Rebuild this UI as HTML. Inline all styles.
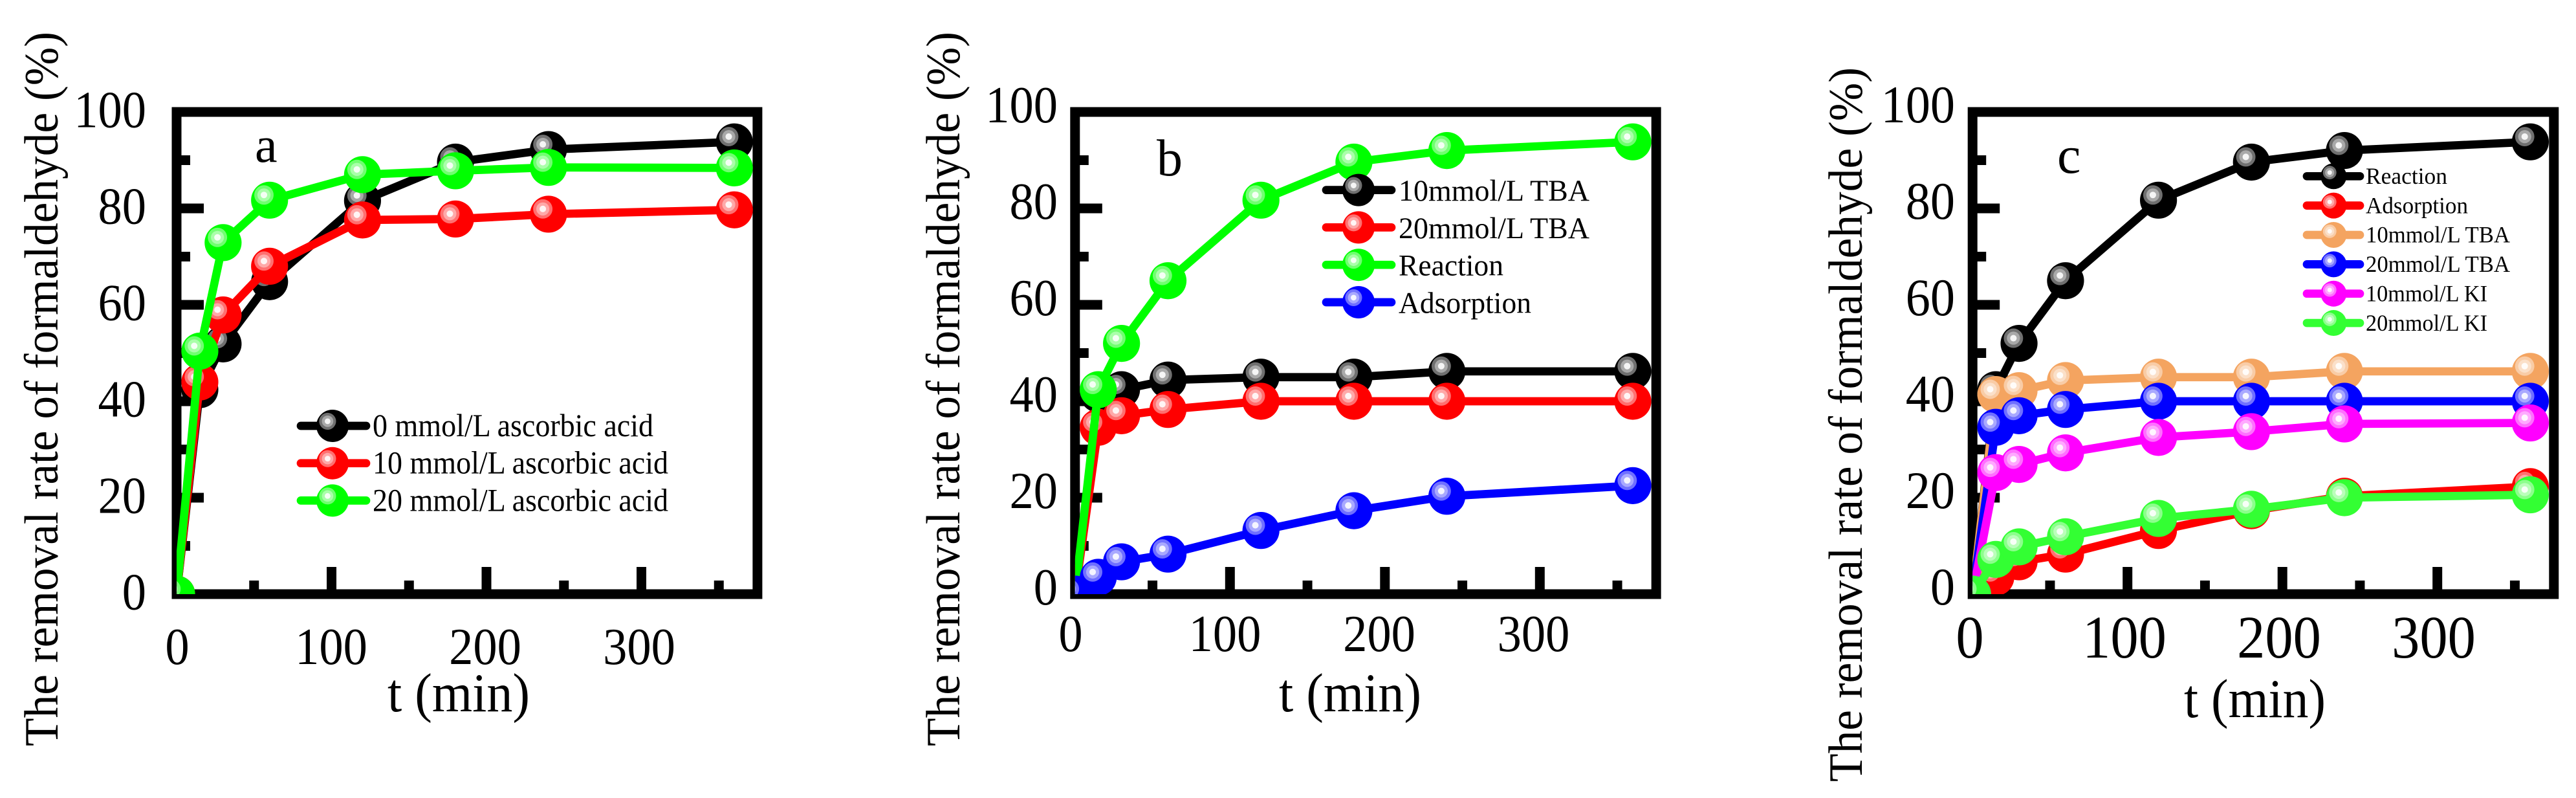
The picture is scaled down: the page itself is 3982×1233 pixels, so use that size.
<!DOCTYPE html>
<html lang="en">
<head>
<meta charset="utf-8">
<title>Removal rate of formaldehyde</title>
<style>
html,body{margin:0;padding:0;background:#fff;}
svg{display:block;}
text{font-family:"Liberation Serif","Times New Roman",serif;fill:#000;}
</style>
</head>
<body>
<svg id="chart" xmlns="http://www.w3.org/2000/svg" width="3982" height="1233" viewBox="0 0 3982 1233">
  <rect x="0" y="0" width="3982" height="1233" fill="#fff"/>
  <defs>
    <clipPath id="clip-a"><rect x="273" y="173" width="897.8" height="745"/></clipPath>
    <clipPath id="clip-b"><rect x="1661.8" y="173" width="898.4" height="745"/></clipPath>
    <clipPath id="clip-c"><rect x="3049.2" y="173" width="898.6" height="745"/></clipPath>
  </defs>

  <g id="panel-a">
    <text transform="translate(89,1153) rotate(-90)" font-size="74" textLength="1104" lengthAdjust="spacingAndGlyphs">The removal rate of formaldehyde (%)</text>
    <text x="599" y="1099" font-size="85" textLength="220" lengthAdjust="spacingAndGlyphs">t (min)</text>
    <text x="394" y="250" font-size="78">a</text>
  </g>
  <g id="panel-b">
    <text transform="translate(1483,1153) rotate(-90)" font-size="74" textLength="1104" lengthAdjust="spacingAndGlyphs">The removal rate of formaldehyde (%)</text>
    <text x="1977" y="1099" font-size="85" textLength="220" lengthAdjust="spacingAndGlyphs">t (min)</text>
    <text x="1788" y="271" font-size="80">b</text>
  </g>
  <g id="panel-c">
    <text transform="translate(2878,1208) rotate(-90)" font-size="74" textLength="1104" lengthAdjust="spacingAndGlyphs">The removal rate of formaldehyde (%)</text>
    <text x="3376" y="1108" font-size="85" textLength="219" lengthAdjust="spacingAndGlyphs">t (min)</text>
    <text x="3180" y="267" font-size="82">c</text>
  </g>
</svg>

<script>
// ---- chart data ----
const timeMinutes = [0, 15, 30, 60, 120, 180, 240, 360];

const xTickLabels = [0, 100, 200, 300];
const xMinorTicks = [50, 150, 250, 350];
const yTickLabels = [0, 20, 40, 60, 80, 100];
const yMinorTicks = [10, 30, 50, 70, 90];

// panel a
const a0mmolAscorbic  = [0, 42.4, 51.9, 64.8, 81.6, 89.6, 92.2, 93.8];
const a10mmolAscorbic = [0, 44, 57.9, 68, 77.6, 77.8, 78.8, 79.7];
const a20mmolAscorbic = [0, 50.4, 72.9, 81.7, 87, 87.8, 88.5, 88.4];
const aLegendLabels = ['0 mmol/L ascorbic acid', '10 mmol/L ascorbic acid', '20 mmol/L ascorbic acid'];

// panel b
const b10mmolTBA   = [0, 41.5, 42.4, 44.4, 45, 45, 46.2, 46.2];
const b20mmolTBA   = [0, 34.6, 37, 38.3, 40, 40, 40, 40];
const bReaction    = [0, 42.4, 52, 65, 81.7, 89.6, 92, 93.8];
const bAdsorption  = [0, 3.5, 6.7, 8.3, 13.2, 17.3, 20.3, 22.5];
const bLegendLabels = ['10mmol/L TBA', '20mmol/L TBA', 'Reaction', 'Adsorption'];

// panel c
const cReaction    = [0, 42.4, 52, 65, 81.7, 89.6, 92, 93.8];
const cAdsorption  = [0, 3.5, 6.7, 8.3, 13.2, 17.3, 20.3, 22.3];
const c10mmolTBA   = [0, 41.4, 42.2, 44.3, 45, 45, 46.2, 46.2];
const c20mmolTBA   = [0, 34.6, 37, 38.3, 40, 40, 40, 40];
const c10mmolKI    = [0, 25.2, 26.9, 29.3, 32.5, 33.7, 35.3, 35.5];
const c20mmolKI    = [0, 7.2, 9.8, 11.9, 15.7, 17.6, 20, 20.6];
const cLegendLabels = ['Reaction', 'Adsorption', '10mmol/L TBA', '20mmol/L TBA', '10mmol/L KI', '20mmol/L KI'];

// ---- drawing ----
const SVG_NS = 'http://www.w3.org/2000/svg';
const COLORS = {black:'#000000', red:'#ff0000', lime:'#00ff00', green:'#33ff33', sand:'#f4a460', blue:'#0000ff', magenta:'#ff00ff'};
const PLOT_TOP = 173, PLOT_BOTTOM = 918, X_UNIT = 2.395, Y_UNIT = 7.45;
const LINE_W = 12.7, FRAME_W = 15;

function make(tag, attrs, parent) {
  const el = document.createElementNS(SVG_NS, tag);
  for (const k in attrs) el.setAttribute(k, attrs[k]);
  parent.appendChild(el);
  return el;
}
function yScale(v) { return PLOT_BOTTOM - v * Y_UNIT; }

function tickLabel(parent, text, x, y, size, hscale, anchor, name) {
  const str = String(text);
  const el = make('text', {
    x: x, y: y, 'font-size': size, 'text-anchor': anchor,
    textLength: str.length * 0.5 * size * hscale,
    lengthAdjust: 'spacingAndGlyphs'
  }, parent);
  
  
  el.textContent = str;
}

function ball(parent, cx, cy, r, color, name) {
  const g = make('g', {}, parent);
  
  
  make('circle', {cx: cx, cy: cy, r: r, fill: color}, g);
  const k = r / 28.3;
  const hx = cx - 8.6 * k, hy = cy - 8 * k;
  make('circle', {cx: hx, cy: hy, r: 14.8 * k, fill: '#fff', 'fill-opacity': 0.44}, g);
  make('circle', {cx: hx, cy: hy, r: 10 * k, fill: '#fff', 'fill-opacity': 0.40}, g);
  make('circle', {cx: hx, cy: hy, r: 5 * k, fill: '#fff', 'fill-opacity': 0.88}, g);
}

function drawPanel(p) {
  const root = document.getElementById(p.id);
  const xScale = function (t) { return p.x0 + t * X_UNIT; };
  const right = xScale(p.xMax);

  // frame
  const frame = make('rect', {
    x: p.x0, y: PLOT_TOP, width: right - p.x0, height: PLOT_BOTTOM - PLOT_TOP,
    fill: 'none', stroke: '#000', 'stroke-width': FRAME_W
  }, root);
  
  

  // ticks
  const majorLen = 42, minorLen = 21;
  xTickLabels.forEach(function (t) {
    if (t === 0) return;
    const tick = make('line', {x1: xScale(t), x2: xScale(t), y1: PLOT_BOTTOM, y2: PLOT_BOTTOM - majorLen, stroke: '#000', 'stroke-width': FRAME_W}, root);
    
    
  });
  xMinorTicks.forEach(function (t) {
    const tick = make('line', {x1: xScale(t), x2: xScale(t), y1: PLOT_BOTTOM, y2: PLOT_BOTTOM - minorLen, stroke: '#000', 'stroke-width': FRAME_W}, root);
    
    
  });
  yTickLabels.forEach(function (v) {
    if (v === 0 || v === 100) return;
    const tick = make('line', {x1: p.x0, x2: p.x0 + majorLen, y1: yScale(v), y2: yScale(v), stroke: '#000', 'stroke-width': FRAME_W}, root);
    
    
  });
  yMinorTicks.forEach(function (v) {
    const tick = make('line', {x1: p.x0, x2: p.x0 + minorLen, y1: yScale(v), y2: yScale(v), stroke: '#000', 'stroke-width': FRAME_W}, root);
    
    
  });

  // tick labels
  xTickLabels.forEach(function (t) {
    tickLabel(root, t, p.xLabelX0 + t * p.xLabelUnit, p.xLabelY, p.xLabelSize, p.xLabelScale, 'middle', 'x-tick-label');
  });
  yTickLabels.forEach(function (v) {
    tickLabel(root, v, p.yLabelRight, yScale(v) + p.yLabelDy, p.yLabelSize, p.yLabelScale, 'end', 'y-tick-label');
  });

  // series (clipped to the axes rectangle)
  const dataGroup = make('g', {'clip-path': 'url(#' + p.clip + ')'}, root);
  
  
  p.series.forEach(function (s, si) {
    const g = make('g', {}, dataGroup);
    
    
    const pts = s.values.map(function (v, i) { return xScale(timeMinutes[i]) + ',' + yScale(v); }).join(' ');
    const line = make('polyline', {points: pts, fill: 'none', stroke: s.color, 'stroke-width': LINE_W, 'stroke-linejoin': 'round'}, g);
    
    
    s.values.forEach(function (v, i) {
      ball(g, xScale(timeMinutes[i]), yScale(v), 28.6, s.color, 'data-point');
    });
  });

  // legend
  const L = p.legend;
  const lg = make('g', {}, root);
  
  
  p.series.forEach(function (s, i) {
    const y = L.y0 + i * L.dy;
    const entry = make('g', {}, lg);
    
    
    make('line', {x1: L.x1, x2: L.x2, y1: y, y2: y, stroke: s.color, 'stroke-width': LINE_W, 'stroke-linecap': 'round'}, entry);
    ball(entry, L.cx, y, L.r, s.color, 'legend-marker');
    const t = make('text', {
      x: L.textX, y: y + L.textDy, 'font-size': L.size,
      textLength: s.label.length > 0 ? L.widths[i] : 0,
      lengthAdjust: 'spacingAndGlyphs'
    }, entry);
    
    
    t.textContent = s.label;
  });
}

drawPanel({
  id: 'panel-a', clip: 'clip-a', x0: 273, xMax: 374.9,
  xLabelX0: 274, xLabelUnit: 2.38, xLabelY: 1026, xLabelSize: 81, xLabelScale: 0.92,
  yLabelRight: 226, yLabelDy: 23.5, yLabelSize: 81, yLabelScale: 0.92,
  series: [
    {values: a0mmolAscorbic,  color: COLORS.black, label: aLegendLabels[0]},
    {values: a10mmolAscorbic, color: COLORS.red,   label: aLegendLabels[1]},
    {values: a20mmolAscorbic, color: COLORS.lime,  label: aLegendLabels[2]}
  ],
  legend: {x1: 465, x2: 566, cx: 514, y0: 658, dy: 57.7, r: 25, textX: 576, textDy: 16, size: 50, widths: [434, 457, 457]}
});

drawPanel({
  id: 'panel-b', clip: 'clip-b', x0: 1661.8, xMax: 375.1,
  xLabelX0: 1655, xLabelUnit: 2.385, xLabelY: 1006, xLabelSize: 81, xLabelScale: 0.92,
  yLabelRight: 1635, yLabelDy: 16, yLabelSize: 81, yLabelScale: 0.92,
  series: [
    {values: b10mmolTBA,  color: COLORS.black, label: bLegendLabels[0]},
    {values: b20mmolTBA,  color: COLORS.red,   label: bLegendLabels[1]},
    {values: bReaction,   color: COLORS.lime,  label: bLegendLabels[2]},
    {values: bAdsorption, color: COLORS.blue,  label: bLegendLabels[3]}
  ],
  legend: {x1: 2050, x2: 2151, cx: 2100, y0: 293.6, dy: 57.8, r: 25, textX: 2162, textDy: 16.4, size: 47, widths: [295, 295, 162, 205]}
});

drawPanel({
  id: 'panel-c', clip: 'clip-c', x0: 3049.2, xMax: 375.2,
  xLabelX0: 3045, xLabelUnit: 2.39, xLabelY: 1016, xLabelSize: 93, xLabelScale: 0.93,
  yLabelRight: 3022, yLabelDy: 16, yLabelSize: 82, yLabelScale: 0.93,
  series: [
    {values: cReaction,   color: COLORS.black,   label: cLegendLabels[0]},
    {values: cAdsorption, color: COLORS.red,     label: cLegendLabels[1]},
    {values: c10mmolTBA,  color: COLORS.sand,    label: cLegendLabels[2]},
    {values: c20mmolTBA,  color: COLORS.blue,    label: cLegendLabels[3]},
    {values: c10mmolKI,   color: COLORS.magenta, label: cLegendLabels[4]},
    {values: c20mmolKI,   color: COLORS.green,   label: cLegendLabels[5]}
  ],
  legend: {x1: 3566, x2: 3648, cx: 3607.3, y0: 272.3, dy: 45.35, r: 20, textX: 3657, textDy: 11.7, size: 36, widths: [126, 158, 223, 223, 188, 188]}
});
</script>
</body>
</html>
